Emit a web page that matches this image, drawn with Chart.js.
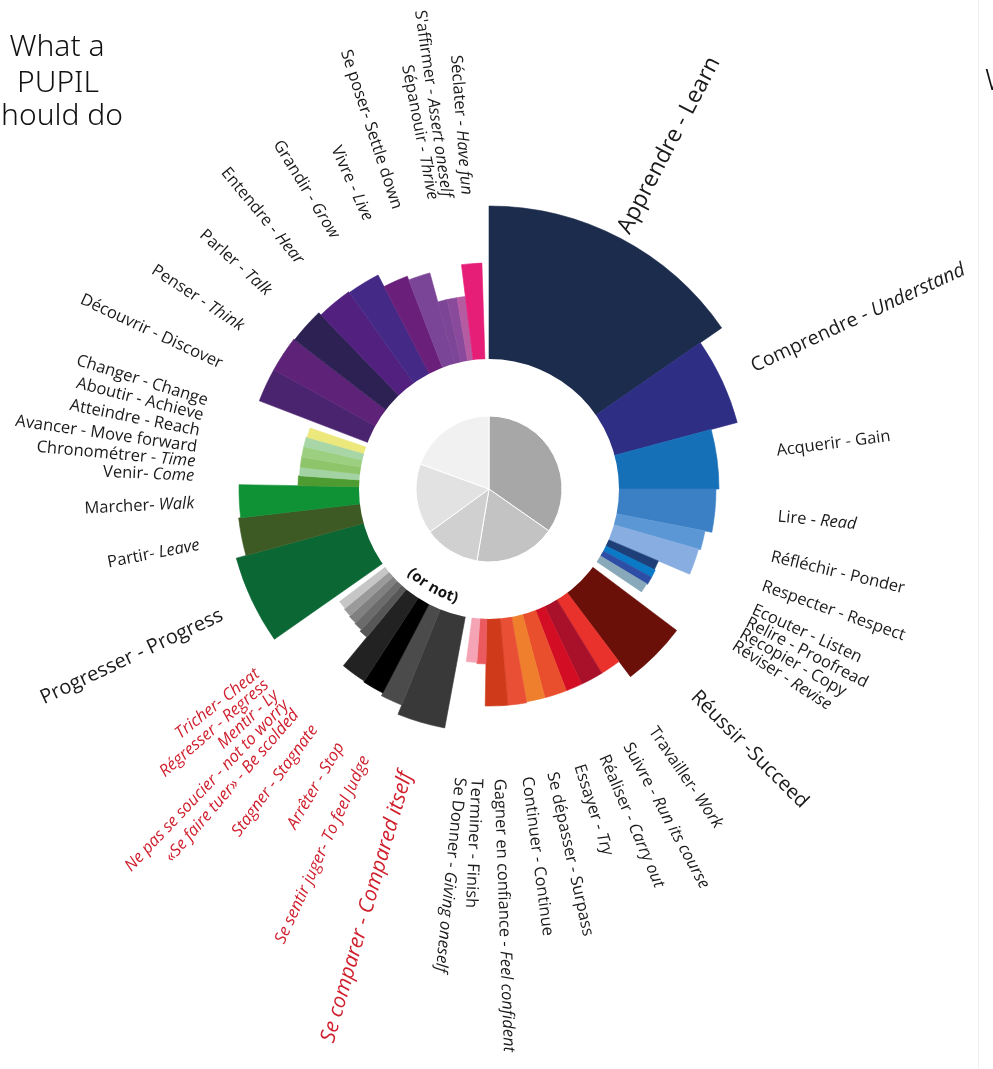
<!DOCTYPE html>
<html>
<head>
<meta charset="utf-8">
<script src="https://cdn.jsdelivr.net/npm/chart.js@4.4.0/dist/chart.umd.min.js"></script>
<style>
  html, body { margin: 0; padding: 0; background: #fff; }
  #wrap { position: relative; width: 993px; height: 1069px; }
</style>
</head>
<body>
<div id="wrap"><canvas id="wheel" width="993" height="1069"></canvas></div>
<script>
// verbs clockwise from 12 o'clock; '' = empty gap between families
const verbsFr = [
  'Apprendre', 'Comprendre', 'Acquerir', 'Lire', 'Réfléchir', 'Respecter', 'Ecouter', 'Relire', 'Recopier', 'Réviser', '',
  'Réussir', 'Travailler', 'Suivre', 'Réaliser', 'Essayer', 'Se dépasser', 'Continuer', 'Gagner en confiance', 'Terminer', 'Se Donner', '',
  'Se comparer', 'Se sentir juger', 'Arrêter', 'Stagner', '«Se faire tuer»', 'Ne pas se soucier', 'Mentir', 'Régresser', 'Tricher', '',
  'Progresser', 'Partir', 'Marcher', 'Venir', 'Chronométrer', 'Avancer', 'Atteindre', 'Aboutir', 'Changer', '',
  'Découvrir', 'Penser', 'Parler', 'Entendre', 'Grandir', 'Vivre', 'Se poser', '', 'Sépanouir', "S'affirmer", 'Séclater', ''
];
const verbsEn = [
  'Learn', 'Understand', 'Gain', 'Read', 'Ponder', 'Respect', 'Listen', 'Proofread', 'Copy', 'Revise', '',
  'Succeed', 'Work', 'Run its course', 'Carry out', 'Try', 'Surpass', 'Continue', 'Feel confident', 'Finish', 'Giving oneself', '',
  'Compared itself', 'To feel Judge', 'Stop', 'Stagnate', 'Be scolded', 'not to worry', 'Ly', 'Regress', 'Cheat', '',
  'Progress', 'Leave', 'Walk', 'Come', 'Time', 'Move forward', 'Reach', 'Achieve', 'Change', '',
  'Discover', 'Think', 'Talk', 'Hear', 'Grow', 'Live', 'Settle down', '', 'Thrive', 'Assert oneself', 'Have fun', ''
];
// share of the circle, in degrees
const spans = [
  55.3, 19.7, 15, 11, 5, 7, 3, 2.5, 2.5, 3, 3,
  16, 5.5, 6.1, 4.4, 6, 5, 5, 6, 3, 3.5, 3,
  11.5, 5.5, 5.5, 6.5, 2.7, 2.7, 2.7, 2.7, 2.7, 2,
  19.7, 8.7, 7.6, 3, 2.6, 3.1, 3.2, 3, 2.9, 2.2,
  8, 8.5, 8.5, 8.6, 8, 6.4, 5.7, 2.8, 3, 2.5, 5.2, 1.8
];
// bar length beyond the white ring
const lengths = [
  153, 127, 100, 97, 90, 88, 54, 55, 55, 54, 0,
  105, 86, 86, 86, 86, 86, 87, 87, 45, 44, 0,
  113, 103, 100, 99, 62, 60, 59, 58, 57, 0,
  132, 122, 120, 61, 60, 60, 60, 60, 59, 0,
  116, 116, 115, 112, 111, 98, 94, 64, 64, 64, 96, 0
];
// inner pie: share of each family, degrees
const pieSpans = [125, 64.5, 44.5, 56, 70];

// ---- styles ----
const none = 'rgba(0,0,0,0)';
const colors = [
  '#1c2c4c', '#2e2e84', '#1670b8', '#3b7fc4', '#5b97d5', '#88ade1', '#1f3f78', '#0a7ac7', '#2e4ea5', '#88a9ba', none,
  '#6b0f09', '#e8322b', '#a9112b', '#d30e24', '#e94e2d', '#ef7f2d', '#e94f35', '#cf3a1b', '#ea5a5f', '#f4a4b4', none,
  '#393939', '#4b4b4b', '#000000', '#222222', '#575757', '#6b6b6b', '#808080', '#9a9a9a', '#c6c6c6', none,
  '#0b6835', '#3d5a24', '#0f9136', '#4e9b32', '#a3d3a3', '#8ec56b', '#9dcf80', '#a9d6a6', '#ece87c', none,
  '#4b2470', '#5e2379', '#2c2152', '#52207f', '#442a86', '#6a1f7b', '#7b4597', '#7c4595', '#8a4a9b', '#b45ba2', '#e61e78', none
];
const pieColors = ['#a8a7a7', '#c4c3c3', '#d1d0d0', '#e3e2e2', '#f1f1f1'];
const labelSize = { 'Apprendre': 23, 'Comprendre': 19.5, 'Réussir': 20, 'Progresser': 20, 'Se comparer': 21 };
const joiners = { 'Réussir': ' -', 'Travailler': '- ', 'Partir': '- ', 'Marcher': '- ', 'Venir': '- ',
  'Se poser': '- ', 'Tricher': '- ', 'Se sentir juger': '- ' };
const negative = new Set(['Se comparer', 'Se sentir juger', 'Arrêter', 'Stagner', '«Se faire tuer»',
  'Ne pas se soucier', 'Mentir', 'Régresser', 'Tricher']);
const uprightEn = new Set(['Apprendre', 'Acquerir', 'Réfléchir', 'Respecter', 'Ecouter', 'Relire', 'Recopier',
  'Réussir', 'Se dépasser', 'Continuer', 'Terminer', 'Progresser', 'Avancer', 'Atteindre', 'Aboutir',
  'Changer', 'Découvrir', 'Se poser']);
const FONT = '"Open Sans", "Noto Sans", sans-serif';
const HOLE = 130;      // white ring radius, scale units below 0
const PIE = -57;       // inner pie edge
const LABEL_AT = 160;  // where the words start / end

function drawVerb(ctx, i, arc, cx, cy, R) {
  const fr = verbsFr[i];
  if (!fr) return;
  const mid = (arc.startAngle + arc.endAngle) / 2;
  const deg = ((mid * 180 / Math.PI + 90) % 360 + 360) % 360;
  const onRight = deg < 188;
  const r = onRight ? R : R + 5;
  const size = labelSize[fr] || 16.5;
  const red = negative.has(fr);
  const frFont = (red ? 'italic ' : '') + size + 'px ' + FONT;
  const enFont = (red || !uprightEn.has(fr) ? 'italic ' : '') + size + 'px ' + FONT;
  const head = fr + (joiners[fr] || ' - ');
  ctx.save();
  ctx.translate(cx + r * Math.cos(mid), cy + r * Math.sin(mid));
  ctx.rotate(onRight ? mid : mid + Math.PI);
  ctx.fillStyle = red ? '#cf1f2d' : '#1a1a1a';
  ctx.textBaseline = 'middle';
  ctx.textAlign = 'left';
  ctx.font = frFont;
  const w1 = ctx.measureText(head).width;
  ctx.font = enFont;
  const w2 = ctx.measureText(verbsEn[i]).width;
  const x = onRight ? 0 : -(w1 + w2);
  ctx.font = frFont;
  ctx.fillText(head, x, 0);
  ctx.font = enFont;
  ctx.fillText(verbsEn[i], x + w1, 0);
  ctx.restore();
}

function drawArcText(ctx, text, cx, cy, r, centerDeg) {
  ctx.save();
  ctx.font = 'bold 15px ' + FONT;
  ctx.fillStyle = '#111';
  ctx.textAlign = 'center';
  ctx.textBaseline = 'middle';
  const total = ctx.measureText(text).width;
  let a = centerDeg * Math.PI / 180 + (total / 2) / r;
  for (const ch of text) {
    const w = ctx.measureText(ch).width;
    const t = a - (w / 2) / r;
    const ca = t - Math.PI / 2;
    ctx.save();
    ctx.translate(cx + r * Math.cos(ca), cy + r * Math.sin(ca));
    ctx.rotate(t - Math.PI);
    ctx.fillText(ch, 0, 0);
    ctx.restore();
    a -= w / r;
  }
  ctx.restore();
}

const wordsPlugin = {
  id: 'words',
  afterDatasetsDraw(chart) {
    const ctx = chart.ctx;
    const scale = chart.scales.r;
    const cx = scale.xCenter, cy = scale.yCenter;
    const R = scale.getDistanceFromCenterForValue(LABEL_AT);
    chart.getDatasetMeta(2).data.forEach((arc, i) => drawVerb(ctx, i, arc, cx, cy, R));
    drawArcText(ctx, '(or not)', cx, cy, scale.getDistanceFromCenterForValue(-16), 210);

    // title, cut by the left edge as in the poster
    ctx.save();
    ctx.fillStyle = '#111';
    ctx.font = '300 30px "Noto Sans", sans-serif';
    ctx.textAlign = 'center';
    ctx.textBaseline = 'alphabetic';
    ctx.fillText('What a', 57, 56);
    ctx.fillText('PUPIL', 58, 92);
    ctx.fillText('should do', 55, 125);
    ctx.textAlign = 'left';
    ctx.fillText('W', 985, 90);
    ctx.strokeStyle = '#f0f0f0';
    ctx.lineWidth = 1;
    ctx.beginPath();
    ctx.moveTo(978.5, 0);
    ctx.lineTo(978.5, 1069);
    ctx.stroke();
    ctx.restore();
  }
};

new Chart(document.getElementById('wheel'), {
  type: 'polarArea',
  data: {
    labels: verbsFr,
    datasets: [
      {
        data: pieSpans.map(() => PIE),
        angle: pieSpans,
        backgroundColor: pieColors,
        borderColor: '#ffffff',
        borderWidth: 1,
        order: 0
      },
      {
        data: [0],
        angle: [360],
        backgroundColor: '#ffffff',
        borderWidth: 0,
        order: 1
      },
      {
        data: lengths,
        angle: spans,
        backgroundColor: colors,
        borderColor: colors,
        borderWidth: 0.6,
        order: 2
      }
    ]
  },
  options: {
    responsive: false,
    animation: false,
    layout: { padding: { left: 189, top: 189, right: 204, bottom: 280 } },
    plugins: { legend: { display: false }, tooltip: { enabled: false } },
    scales: {
      r: {
        min: -HOLE,
        max: 170,
        startAngle: 0,
        ticks: { display: false },
        grid: { display: false },
        angleLines: { display: false },
        pointLabels: { display: false }
      }
    }
  },
  plugins: [wordsPlugin]
});
</script>
</body>
</html>
